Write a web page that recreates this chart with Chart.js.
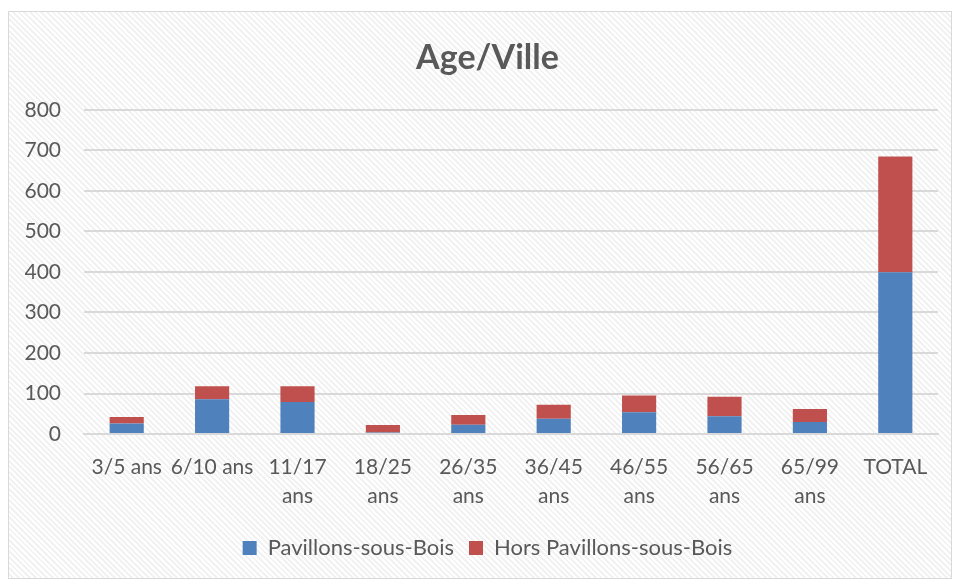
<!DOCTYPE html>
<html>
<head>
<meta charset="utf-8">
<script src="https://cdn.jsdelivr.net/npm/chart.js"></script>
<style>
  html, body { margin: 0; padding: 0; background: #fff; overflow: hidden; }
  #frame {
    position: absolute; left: 8px; top: 11px; width: 942px; height: 566px;
    border: 1px solid #d9d9d9;
    background: repeating-linear-gradient(45deg, #ffffff 0 2px, #f2f2f2 2px 4px);
  }
  #wrap { position: absolute; left: 0; top: 0; width: 968px; height: 581px; }
</style>
</head>
<body>
<div id="frame"></div>
<div id="wrap"><canvas id="chart"></canvas></div>
<script>
  const categories = ['3/5 ans', '6/10 ans', ['11/17', 'ans'], ['18/25', 'ans'], ['26/35', 'ans'],
    ['36/45', 'ans'], ['46/55', 'ans'], ['56/65', 'ans'], ['65/99', 'ans'], 'TOTAL'];
  const pavillons = [26, 86, 79, 4, 23, 38, 54, 44, 30, 399];
  const horsPavillons = [16, 32, 39, 18, 24, 34, 41, 48, 32, 286];
  const yTicks = [0, 100, 200, 300, 400, 500, 600, 700, 800];

  const font = 'Lato, "Open Sans", sans-serif';
  const grey = '#595959';

  new Chart(document.getElementById('chart'), {
    type: 'bar',
    data: {
      labels: categories,
      datasets: [
        { label: 'Pavillons-sous-Bois', data: pavillons, backgroundColor: '#4F81BD' },
        { label: 'Hors Pavillons-sous-Bois', data: horsPavillons, backgroundColor: '#C0504D' }
      ]
    },
    options: {
      responsive: true,
      maintainAspectRatio: false,
      animation: false,
      layout: { padding: { left: 25, right: 18, top: 11, bottom: 12 } },
      datasets: { bar: { categoryPercentage: 1, barPercentage: 0.4 } },
      scales: {
        x: {
          stacked: true,
          grid: { display: false },
          border: { display: true, color: '#d9d9d9', width: 2 },
          ticks: { color: grey, font: { family: font, size: 21, lineHeight: 1.38 }, maxRotation: 0, autoSkip: false, padding: 11 }
        },
        y: {
          stacked: true,
          min: 0, max: 800,
          afterBuildTicks: (axis) => { axis.ticks = yTicks.map(v => ({ value: v })); },
          afterFit: (axis) => { axis.width = 59; },
          grid: { color: '#d9d9d9', lineWidth: 2, drawTicks: false },
          border: { display: false },
          ticks: { color: grey, font: { family: font, size: 21 }, padding: 23 }
        },
        // empty spacer on the right so title and legend sit where the original has them
        spacer: {
          type: 'linear', position: 'right',
          afterFit: (axis) => { axis.width = 12; },
          grid: { display: false }, border: { display: false }, ticks: { display: false }
        }
      },
      plugins: {
        title: {
          display: true, text: 'Age/Ville', color: grey,
          font: { family: font, size: 34, weight: 'bold' },
          padding: { top: 27, bottom: 31 }
        },
        legend: {
          position: 'bottom',
          labels: {
            color: grey, font: { family: font, size: 22 },
            boxWidth: 14, boxHeight: 14, padding: 15
          }
        },
        tooltip: { enabled: false }
      }
    }
  });
</script>
</body>
</html>
